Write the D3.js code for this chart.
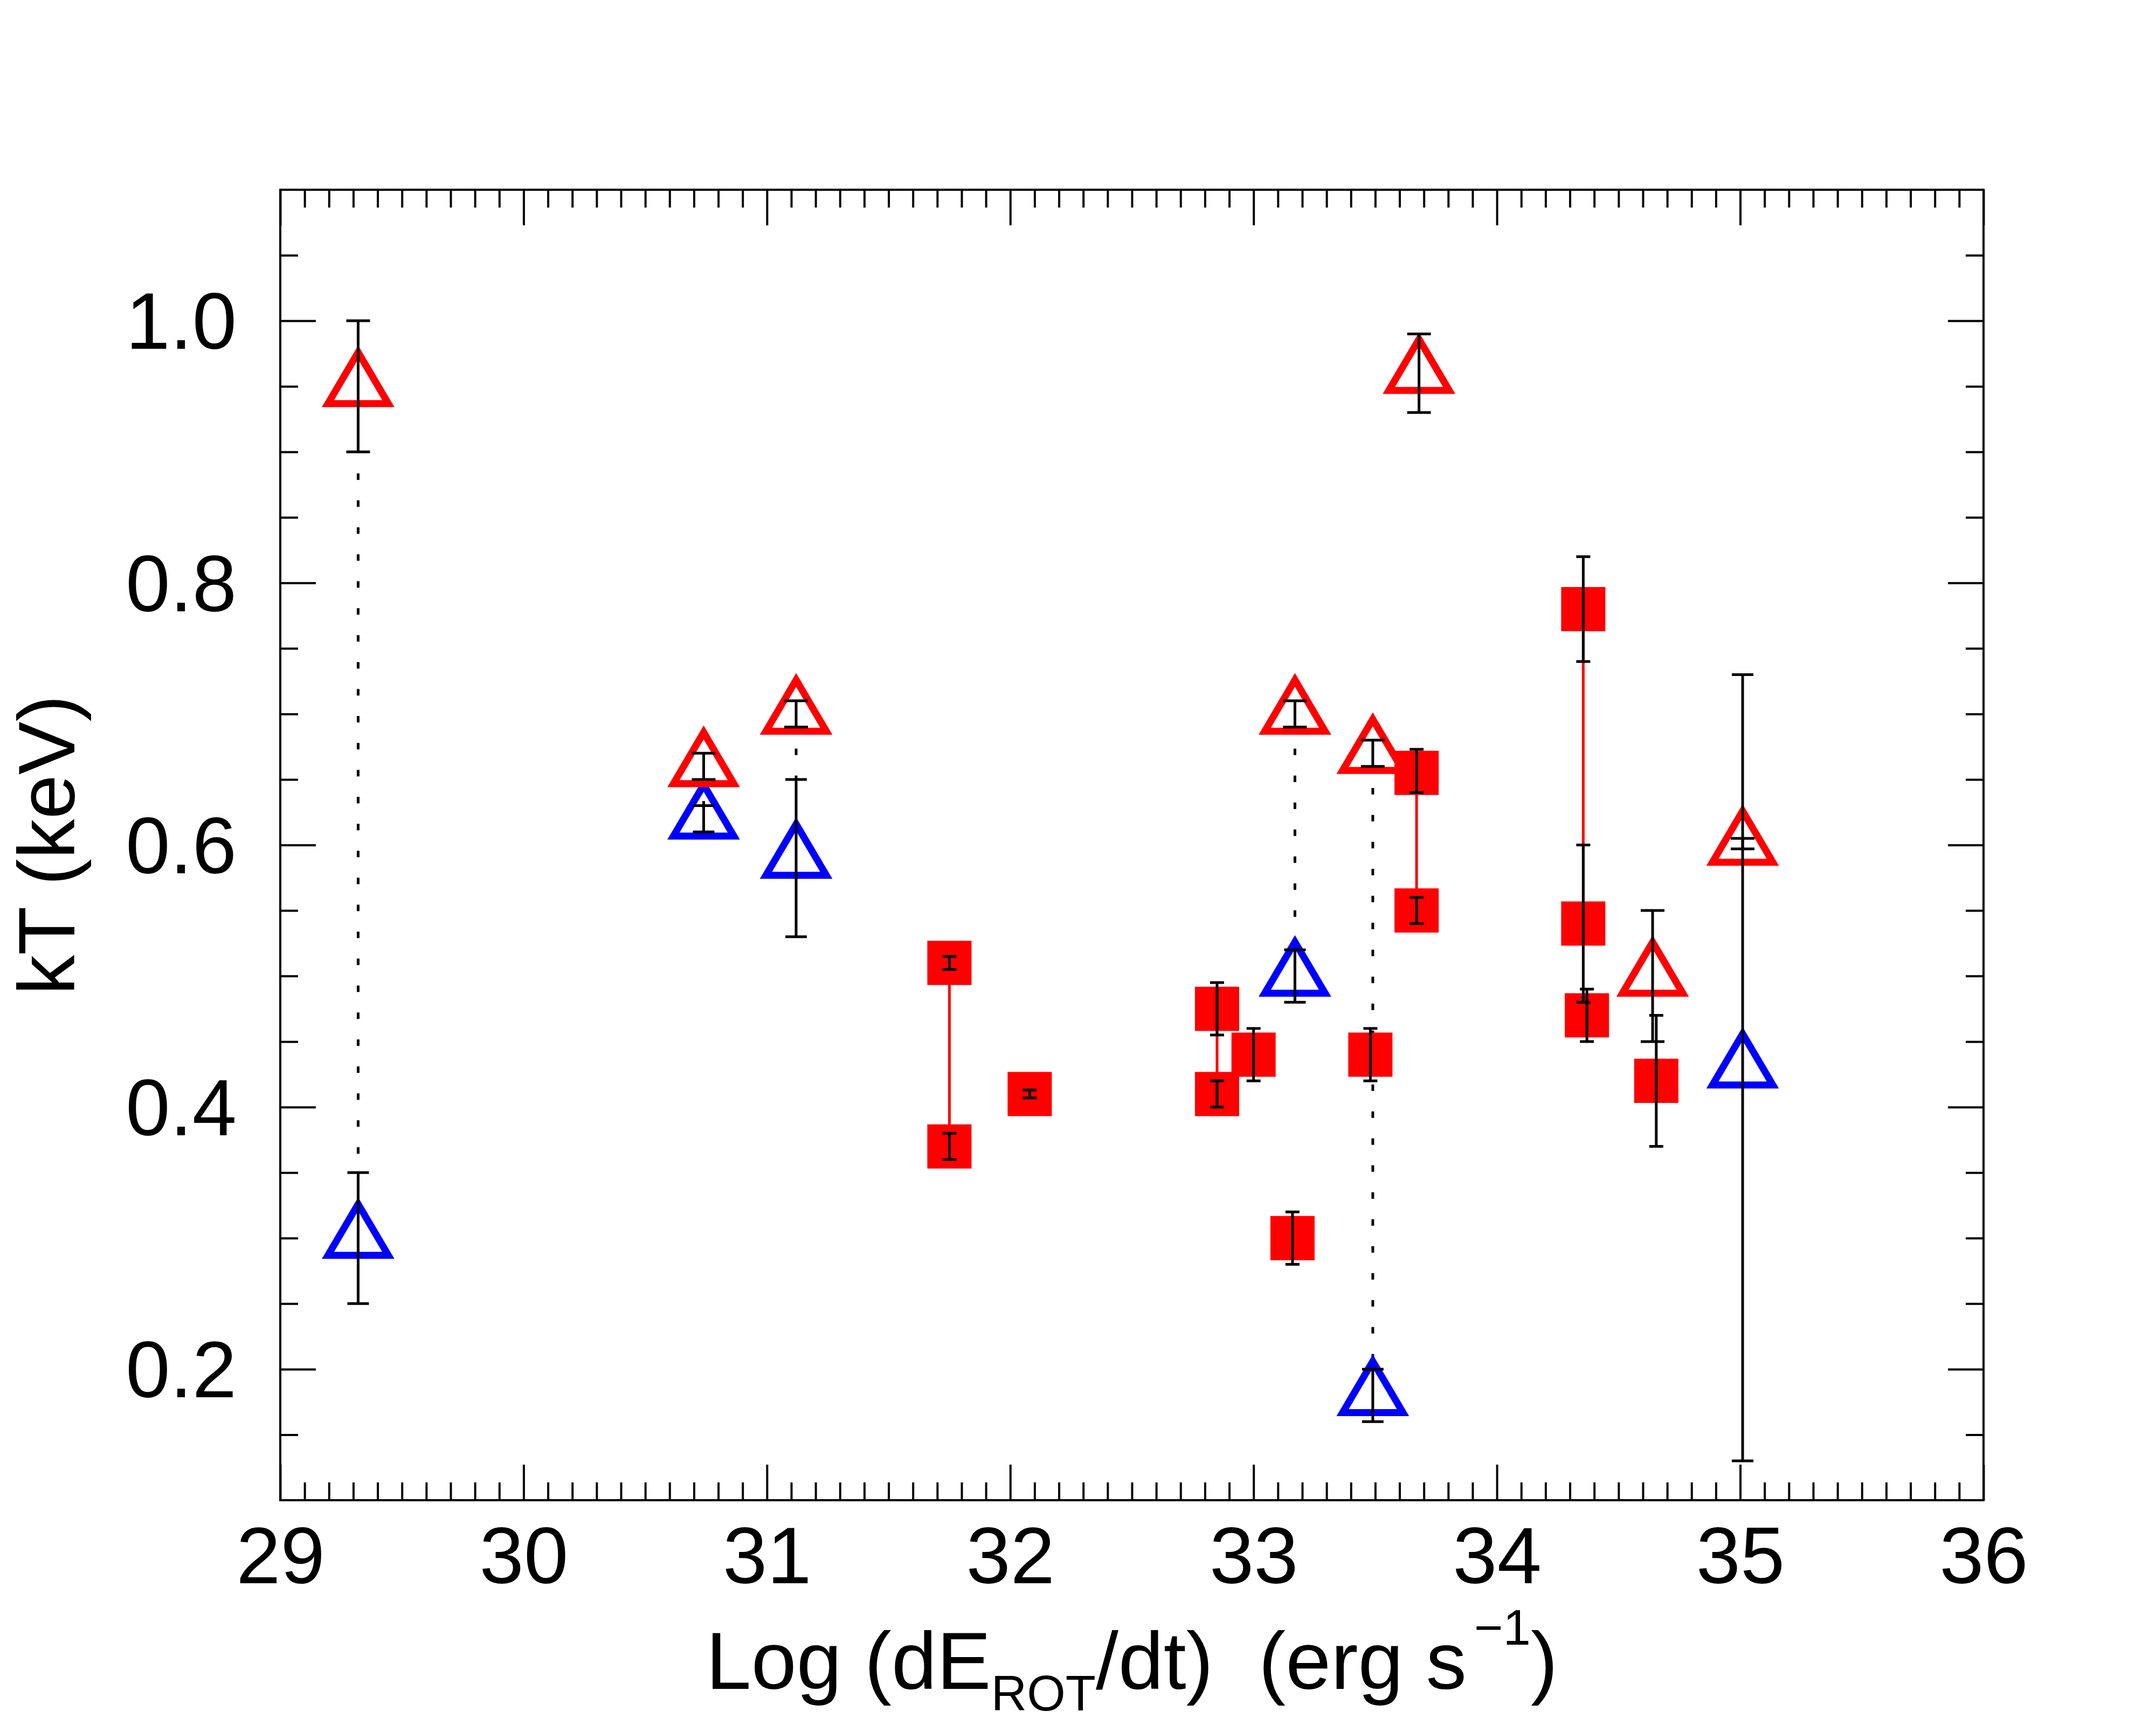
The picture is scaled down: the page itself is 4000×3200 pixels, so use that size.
<!DOCTYPE html>
<html>
<head>
<meta charset="utf-8">
<script src="https://cdn.jsdelivr.net/npm/d3@7"></script>
<style>
  body { margin: 0; background: #fff; }
  text { font-family: "Liberation Sans", Arial, Helvetica, sans-serif; }
</style>
</head>
<body>
<script>
// two-temperature fits: hot component (red triangle) and cool one (blue triangle)
var triX   = [29.32, 30.74, 31.12, 33.17, 33.49, 33.68, 34.64, 35.01];
var hotKT  = [0.95, 0.66, 0.70, 0.70, 0.67, 0.96, 0.50, 0.60];
var hotLo  = [0.90, 0.65, 0.69, 0.69, 0.66, 0.93, 0.45, 0.597];
var hotHi  = [1.00, 0.67, 0.71, 0.71, 0.68, 0.99, 0.55, 0.605];
var coolKT = [0.30, 0.62, 0.59, 0.50, 0.18, null, null, 0.43];
var coolLo = [0.25, 0.61, 0.53, 0.48, 0.16, null, null, 0.13];
var coolHi = [0.35, 0.63, 0.65, 0.52, 0.20, null, null, 0.73];

// single temperature fits (filled red squares)
var sqX  = [31.75, 31.75, 32.08, 32.85, 32.85, 33.00, 33.16, 33.48, 33.67, 33.67, 34.355, 34.355, 34.37, 34.655];
var sqKT = [0.51, 0.37, 0.41, 0.475, 0.41, 0.44, 0.30, 0.44, 0.655, 0.55, 0.78, 0.54, 0.47, 0.42];
var sqLo = [0.505, 0.36, 0.407, 0.455, 0.40, 0.42, 0.28, 0.42, 0.64, 0.54, 0.74, 0.48, 0.45, 0.37];
var sqHi = [0.515, 0.38, 0.413, 0.495, 0.42, 0.46, 0.32, 0.46, 0.673, 0.56, 0.82, 0.60, 0.49, 0.47];
// same source fitted twice -> joined with a red line
var sqLinks = [[0, 1], [3, 4], [8, 9], [10, 11]];

var xTicks = [29, 30, 31, 32, 33, 34, 35, 36];
var yTicks = [0.2, 0.4, 0.6, 0.8, 1.0];

var W = 4000, H = 3200;
var x = d3.scaleLinear().domain([29, 36]).range([520, 3680]);
var y = d3.scaleLinear().domain([0.1, 1.1]).range([2783, 352]);

var xMinor = d3.range(290, 361).map(d => d / 10).filter(d => d % 1 !== 0);
var yMinor = d3.range(3, 22).map(d => d * 0.05).filter(d => Math.abs(d / 0.2 - Math.round(d / 0.2)) > 1e-6);

var svg = d3.select('body').append('svg')
    .attr('width', W)
    .attr('height', H);
svg.append('rect').attr('width', W).attr('height', H).attr('fill', '#fff');

var font = '"Liberation Sans", Arial, Helvetica, sans-serif';

function styleAxis(g) {
  g.select('.domain').remove();
  g.selectAll('line').attr('stroke', '#000').attr('stroke-width', 4);
  g.attr('font-size', 148).attr('font-family', font);
  g.selectAll('text').attr('fill', '#000');
}

// major + minor ticks on all four sides, pointing inward
svg.append('g').attr('transform', 'translate(0,' + y.range()[0] + ')')
  .call(d3.axisBottom(x).tickValues(xTicks).tickSize(-66).tickPadding(49).tickFormat(d3.format('d')))
  .call(styleAxis);
svg.append('g').attr('transform', 'translate(0,' + y.range()[0] + ')')
  .call(d3.axisBottom(x).tickValues(xMinor).tickSize(-33).tickFormat(''))
  .call(styleAxis);
svg.append('g').attr('transform', 'translate(0,' + y.range()[1] + ')')
  .call(d3.axisTop(x).tickValues(xTicks).tickSize(-66).tickFormat(''))
  .call(styleAxis);
svg.append('g').attr('transform', 'translate(0,' + y.range()[1] + ')')
  .call(d3.axisTop(x).tickValues(xMinor).tickSize(-33).tickFormat(''))
  .call(styleAxis);

svg.append('g').attr('transform', 'translate(' + x.range()[0] + ',0)')
  .call(d3.axisLeft(y).tickValues(yTicks).tickSize(-66).tickPadding(81).tickFormat(d3.format('.1f')))
  .call(styleAxis)
  .call(g => g.selectAll('text').attr('dy', '0.35em'));
svg.append('g').attr('transform', 'translate(' + x.range()[0] + ',0)')
  .call(d3.axisLeft(y).tickValues(yMinor).tickSize(-33).tickFormat(''))
  .call(styleAxis);
svg.append('g').attr('transform', 'translate(' + x.range()[1] + ',0)')
  .call(d3.axisRight(y).tickValues(yTicks).tickSize(-66).tickFormat(''))
  .call(styleAxis);
svg.append('g').attr('transform', 'translate(' + x.range()[1] + ',0)')
  .call(d3.axisRight(y).tickValues(yMinor).tickSize(-33).tickFormat(''))
  .call(styleAxis);

// frame
svg.append('rect')
  .attr('x', x.range()[0]).attr('y', y.range()[1])
  .attr('width', x.range()[1] - x.range()[0])
  .attr('height', y.range()[0] - y.range()[1])
  .attr('fill', 'none').attr('stroke', '#000').attr('stroke-width', 4);

var plot = svg.append('g');

// red lines between paired squares
plot.selectAll('line.link').data(sqLinks).enter().append('line')
  .attr('x1', d => x(sqX[d[0]])).attr('x2', d => x(sqX[d[1]]))
  .attr('y1', d => y(sqKT[d[0]])).attr('y2', d => y(sqKT[d[1]]))
  .attr('stroke', '#f00').attr('stroke-width', 5);

// dotted lines between hot and cool component of the same source
var pairs = triX.map((v, i) => i).filter(i => coolKT[i] != null && hotLo[i] > coolHi[i]);
plot.selectAll('line.dot').data(pairs).enter().append('line')
  .attr('x1', i => x(triX[i])).attr('x2', i => x(triX[i]))
  .attr('y1', i => y(hotLo[i])).attr('y2', i => y(coolHi[i]))
  .attr('stroke', '#000').attr('stroke-width', 5)
  .attr('stroke-dasharray', '12 38').attr('stroke-dashoffset', -40);

// squares
var square = d3.symbol(d3.symbolSquare, 82 * 82);
plot.selectAll('path.sq').data(sqX).enter().append('path')
  .attr('d', square)
  .attr('transform', (d, i) => 'translate(' + x(d) + ',' + y(sqKT[i]) + ')')
  .attr('fill', '#f00');

// open triangles, centred on the centroid
var triangle = {
  draw: function(ctx) {
    ctx.moveTo(0, -63);
    ctx.lineTo(56, 32);
    ctx.lineTo(-56, 32);
    ctx.closePath();
  }
};
var triPath = d3.symbol(triangle)();
var hot = triX.map((v, i) => ({x: v, kt: hotKT[i]}));
var cool = triX.map((v, i) => ({x: v, kt: coolKT[i]})).filter(d => d.kt != null);

plot.selectAll('path.cool').data(cool).enter().append('path')
  .attr('d', triPath)
  .attr('transform', d => 'translate(' + x(d.x) + ',' + y(d.kt) + ')')
  .attr('fill', 'none').attr('stroke', '#00f').attr('stroke-width', 13)
  .attr('stroke-linejoin', 'miter').attr('stroke-miterlimit', 10);
plot.selectAll('path.hot').data(hot).enter().append('path')
  .attr('d', triPath)
  .attr('transform', d => 'translate(' + x(d.x) + ',' + y(d.kt) + ')')
  .attr('fill', 'none').attr('stroke', '#f00').attr('stroke-width', 13)
  .attr('stroke-linejoin', 'miter').attr('stroke-miterlimit', 10);

// error bars
function errorBars(xs, los, his, cap) {
  var rows = xs.map((v, i) => ({x: v, lo: los[i], hi: his[i]})).filter(d => d.lo != null);
  var g = plot.append('g').attr('stroke', '#000').attr('stroke-width', 5);
  rows.forEach(function(d) {
    var px = x(d.x);
    g.append('line').attr('x1', px).attr('x2', px).attr('y1', y(d.lo)).attr('y2', y(d.hi));
    g.append('line').attr('x1', px - cap / 2).attr('x2', px + cap / 2).attr('y1', y(d.lo)).attr('y2', y(d.lo));
    g.append('line').attr('x1', px - cap / 2).attr('x2', px + cap / 2).attr('y1', y(d.hi)).attr('y2', y(d.hi));
  });
}
errorBars(sqX, sqLo, sqHi, 26);
errorBars(triX, hotLo, hotHi, 44);
errorBars(triX, coolLo, coolHi, 40);

// axis titles
svg.append('text')
  .attr('transform', 'translate(138,' + (y.range()[0] + y.range()[1]) / 2 + ') rotate(-90)')
  .attr('text-anchor', 'middle')
  .attr('font-size', 148)
  .text('kT (keV)');

var xt = svg.append('text')
  .attr('x', (x.range()[0] + x.range()[1]) / 2)
  .attr('y', 3133)
  .attr('text-anchor', 'middle')
  .attr('font-size', 151)
  .style('white-space', 'pre');
xt.append('tspan').text('Log (dE');
xt.append('tspan').attr('font-size', 92).attr('dy', 40).text('ROT');
xt.append('tspan').attr('dy', -40).text('/dt)  (erg s');
xt.append('tspan').attr('font-size', 92).attr('dy', -82).attr('dx', 14).text('\u22121');
xt.append('tspan').attr('dy', 82).text(')');
</script>
</body>
</html>
